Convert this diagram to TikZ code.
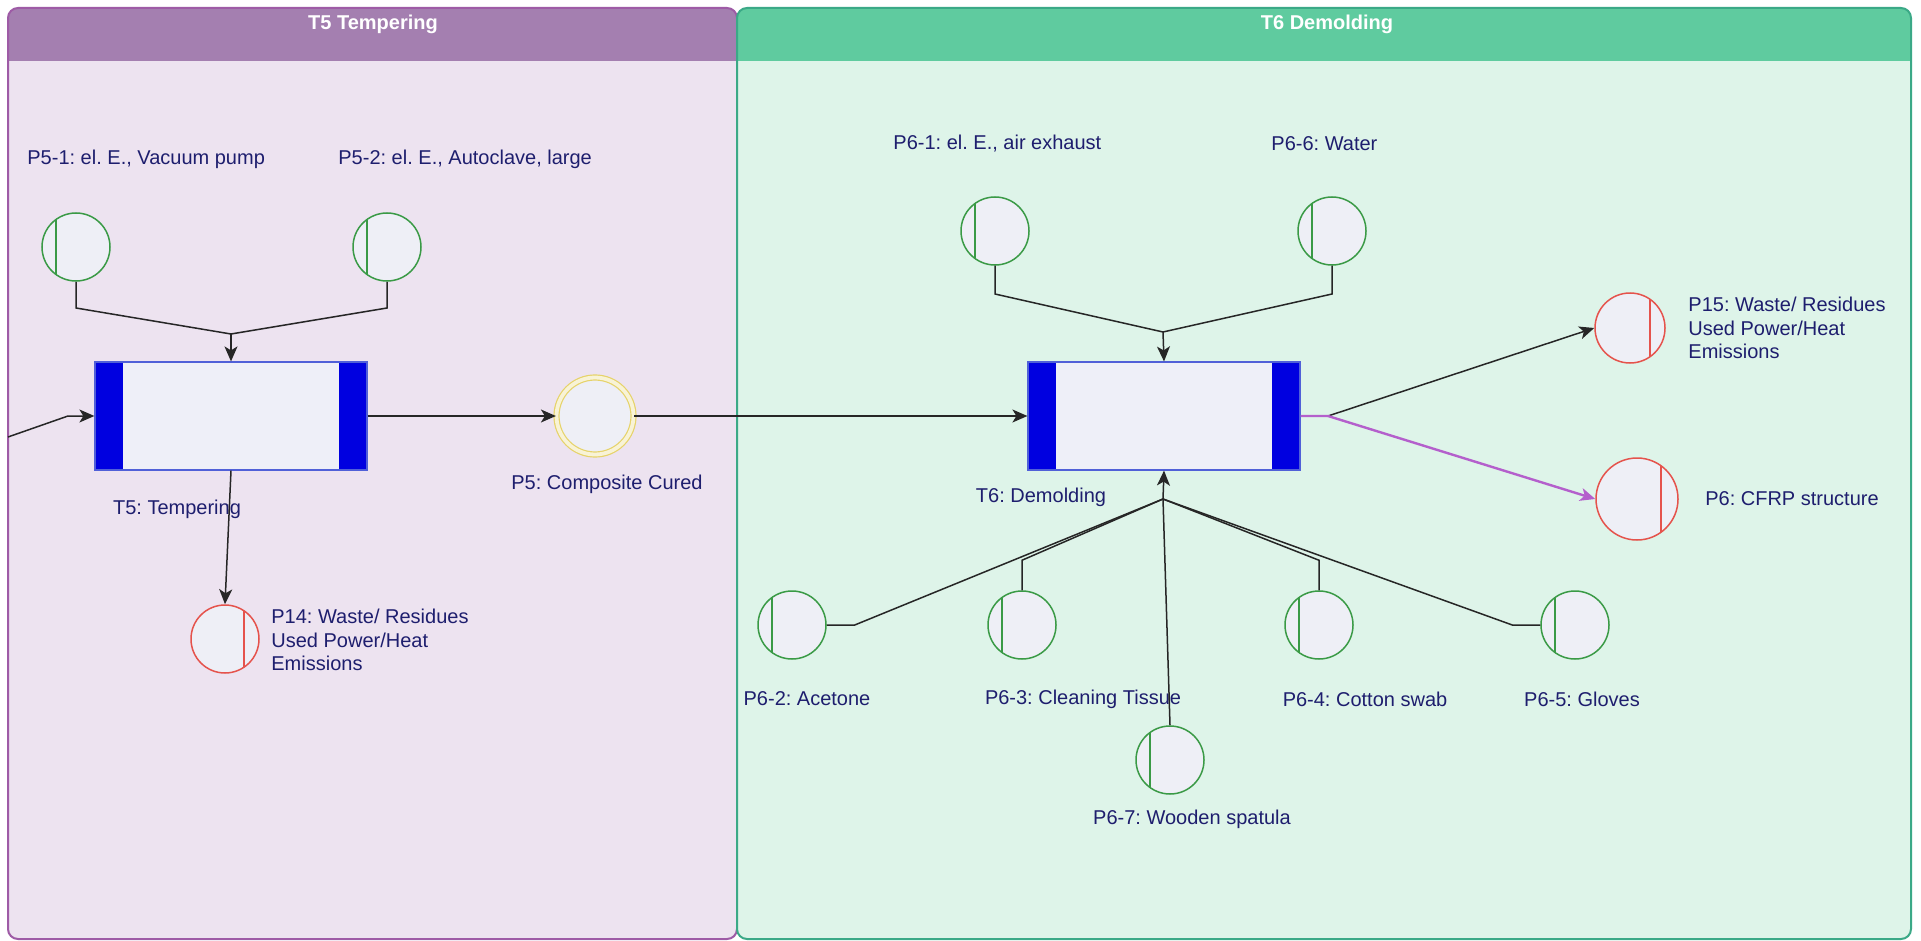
\documentclass[tikz,border=0pt]{standalone}
\usepackage{fontspec}
\setmainfont{Liberation Sans}
\usetikzlibrary{arrows.meta}
\frenchspacing
\definecolor{lanepurple}{HTML}{EDE3F0}
\definecolor{headpurple}{HTML}{A47FB0}
\definecolor{linepurple}{HTML}{9E5BA6}
\definecolor{lanegreen}{HTML}{DEF4E9}
\definecolor{headgreen}{HTML}{5FCB9F}
\definecolor{linegreen}{HTML}{3BA987}
\definecolor{placefill}{HTML}{EEEFF6}
\definecolor{placegreen}{HTML}{3A9A46}
\definecolor{placered}{HTML}{E5534C}
\definecolor{placeyellow}{HTML}{E6D36A}
\definecolor{ringyellow}{HTML}{F8F3D6}
\definecolor{barblue}{HTML}{0000E0}
\definecolor{boxline}{HTML}{5060D8}
\definecolor{boxfill}{HTML}{EEEFF8}
\definecolor{txtblue}{HTML}{1E1E6E}
\definecolor{outviolet}{HTML}{B45FCC}
\newcommand{\lbfont}{\fontsize{10}{11.75}\selectfont\frenchspacing}
\tikzset{
  lbl/.style={text=txtblue, font=\lbfont, inner sep=0pt},
  multilbl/.style={lbl, align=left},
  headtxt/.style={text=white, font=\fontsize{10}{12}\selectfont\bfseries, inner sep=0pt},
  gplace/.style={circle, draw=placegreen, line width=0.75pt, fill=placefill,
    minimum size=34pt, inner sep=0pt,
    path picture={\draw[placegreen, line width=0.75pt]
      ([xshift=-10pt]path picture bounding box.north) --
      ([xshift=-10pt]path picture bounding box.south);}},
  rplace/.style 2 args={circle, draw=placered, line width=0.75pt, fill=placefill,
    minimum size=#1, inner sep=0pt,
    path picture={\draw[placered, line width=0.75pt]
      ([xshift=#2]path picture bounding box.north) --
      ([xshift=#2]path picture bounding box.south);}},
  yplace/.style={circle, draw=placeyellow, line width=0.6pt, double=ringyellow,
    double distance=1.9pt, fill=placefill, minimum size=38.5pt, inner sep=0pt},
  trans/.style={rectangle, draw=boxline, line width=0.6pt, fill=boxfill,
    minimum width=136pt, minimum height=54pt, inner sep=0pt,
    path picture={
      \fill[barblue] (path picture bounding box.north west) rectangle
        ([xshift=14pt]path picture bounding box.south west);
      \fill[barblue] (path picture bounding box.north east) rectangle
        ([xshift=-14pt]path picture bounding box.south east);}},
  conn/.style={draw=black!85, line width=0.75pt},
  arr/.style={conn, -{Stealth[length=7.5pt, width=6.5pt, inset=2pt]}},
  parr/.style={draw=outviolet, line width=1.2pt, -{Stealth[length=7.5pt, width=6.5pt, inset=2pt]}},
}
\begin{document}
\begin{tikzpicture}[x=0.5pt, y=-0.5pt]
\useasboundingbox (0,0) rectangle (1921,941);
\fill[white] (0,0) rectangle (1921,941);

% ---- swimlanes ----
\begin{scope}
  \clip[rounded corners=5pt] (8,939) rectangle (737,8);
  \fill[lanepurple] (8,8) rectangle (737,941);
  \fill[headpurple] (8,8) rectangle (737,61);
\end{scope}
\draw[linepurple, line width=1pt, rounded corners=5pt] (8,939) rectangle (737,8);
\begin{scope}
  \clip[rounded corners=5pt] (737,939) rectangle (1911,8);
  \fill[lanegreen] (737,8) rectangle (1911,941);
  \fill[headgreen] (737,8) rectangle (1911,61);
\end{scope}
\draw[linegreen, line width=1pt, rounded corners=5pt] (737,939) rectangle (1911,8);
\node[headtxt] (h5) at (373,24) {T5 Tempering};
\node[headtxt] (h6) at (1327,24) {T6 Demolding};

% ---- T5 ----
\node[gplace] (p51) at (76,247) {};
\node[gplace] (p52) at (387,247) {};
\node[lbl, anchor=west] (l51) at (27,159) {P5-1: el. E., Vacuum pump};
\node[lbl, anchor=west] (l52) at (338,159) {P5-2: el. E., Autoclave, large};
\node[trans] (t5) at (231,416) {};
\node[lbl] (lt5) at (177,509) {T5: Tempering};
\node[rplace={34pt}{9.5pt}] (p14) at (225,639) {};
\node[multilbl, anchor=west] (l14) at (271,640) {P14: Waste/ Residues\\Used Power/Heat\\Emissions};
\node[yplace] (p5) at (595,416) {};
\node[lbl] (l5) at (607,484) {P5: Composite Cured};

\coordinate (j5a) at (231,308);
\coordinate (j5) at (231,334);
\coordinate (in5) at (8,437);
\coordinate (in5b) at (68,416);
\draw[conn] (p51.south) -- (p51.south |- j5a) -- (j5);
\draw[conn] (p52.south) -- (p52.south |- j5a) -- (j5);
\draw[arr] (j5) -- (t5.north);
\draw[arr] (in5) -- (in5b) -- (t5.west);
\draw[arr] (t5.south) -- (p14.north);
\draw[arr] (t5.east) -- (p5.west);

% ---- T6 ----
\node[gplace] (p61) at (995,231) {};
\node[gplace] (p66) at (1332,231) {};
\node[lbl, anchor=west] (l61) at (893,144) {P6-1: el. E., air exhaust};
\node[lbl, anchor=west] (l66) at (1271,144) {P6-6: Water};
\node[trans] (t6) at (1164,416) {};
\node[lbl] (lt6) at (1041,497) {T6: Demolding};
\node[rplace={35pt}{10pt}] (p15) at (1630,328) {};
\node[multilbl, anchor=west] (l15) at (1688,328) {P15: Waste/ Residues\\Used Power/Heat\\Emissions};
\node[rplace={41pt}{12pt}] (p6) at (1637,499) {};
\node[lbl] (l6) at (1792,499) {P6: CFRP structure};

\node[gplace] (p62) at (792,625) {};
\node[gplace] (p63) at (1022,625) {};
\node[gplace] (p64) at (1319,625) {};
\node[gplace] (p65) at (1575,625) {};
\node[gplace] (p67) at (1170,760) {};
\node[lbl] (l62) at (807,699) {P6-2: Acetone};
\node[lbl] (l63) at (1083,699) {P6-3: Cleaning Tissue};
\node[lbl] (l64) at (1365,699) {P6-4: Cotton swab};
\node[lbl] (l65) at (1582,699) {P6-5: Gloves};
\node[lbl] (l67) at (1192,819) {P6-7: Wooden spatula};

\draw[arr] (p5.east) -- (t6.west);

\coordinate (j6a) at (1163,294);
\coordinate (j6) at (1163,332);
\draw[conn] (p61.south) -- (p61.south |- j6a) -- (j6);
\draw[conn] (p66.south) -- (p66.south |- j6a) -- (j6);
\draw[arr] (j6) -- (t6.north);

\coordinate (jb) at (1163,499);
\draw[conn] (p62.east) -- ++(28,0) -- (jb);
\draw[conn] (p63.north) -- ++(0,-30) -- (jb);
\draw[conn] (p64.north) -- ++(0,-30) -- (jb);
\draw[conn] (p65.west) -- ++(-28,0) -- (jb);
\draw[conn] (p67.north) -- (jb);
\draw[arr] (jb) -- (t6.south);

\coordinate (so) at (1328,416);
\draw[arr] (so) -- (p15.west);
\draw[parr] (t6.east) -- (so) -- (p6.west);
\end{tikzpicture}
\end{document}
